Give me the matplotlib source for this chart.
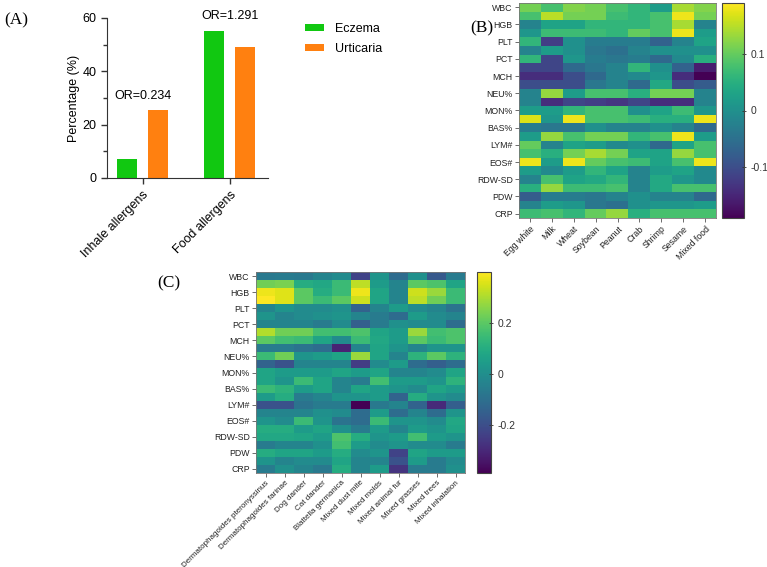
import matplotlib.pyplot as plt
import numpy as np

plt.rcParams['font.family'] = ['Liberation Sans', 'DejaVu Sans']

# ---- panel A data
groups = ['Inhale allergens', 'Food allergens']
eczema = [7.3, 55.3]
urticaria = [25.5, 49.0]
or_labels = ['OR=0.234', 'OR=1.291']

# ---- heatmap labels
row_labels = ['WBC', 'HGB', 'PLT', 'PCT', 'MCH', 'NEU%', 'MON%', 'BAS%',
              'LYM#', 'EOS#', 'RDW-SD', 'PDW', 'CRP']
food_cols = ['Egg white', 'Milk', 'Wheat', 'Soybean', 'Peanut', 'Crab',
             'Shrimp', 'Sesame', 'Mixed food']
inhale_cols = ['Dermatophagoides pteronyssinus', 'Dermatophagoides farinae',
               'Dog dander', 'Cat dander', 'Blattella germanica',
               'Mixed dust mite', 'Mixed molds', 'Mixed animal fur',
               'Mixed grasses', 'Mixed trees', 'Mixed inhalation']

# ---- panel B values (25 rows x 9 cols)
food_vals = [
    [0.11, 0.08, 0.12, 0.11, 0.08, 0.06, 0.02, 0.14, 0.12],
    [0.08, 0.15, 0.11, 0.11, 0.07, 0.06, 0.08, 0.18, 0.11],
    [-0.02, 0.03, 0.03, 0.06, 0.06, 0.06, 0.08, 0.14, -0.02],
    [0.01, 0.07, 0.07, 0.07, 0.06, 0.10, 0.08, 0.18, 0.02],
    [0.06, -0.12, 0.00, -0.03, -0.03, -0.03, -0.07, -0.02, 0.03],
    [-0.02, 0.02, 0.00, -0.04, -0.05, -0.02, 0.00, 0.00, 0.00],
    [0.06, -0.11, 0.01, -0.03, -0.04, -0.03, -0.06, -0.01, 0.05],
    [-0.11, -0.11, -0.06, -0.04, -0.02, 0.06, 0.00, -0.07, -0.16],
    [-0.14, -0.14, -0.10, -0.06, -0.02, -0.01, 0.01, -0.14, -0.19],
    [-0.10, -0.10, -0.10, -0.04, -0.02, -0.06, 0.04, -0.10, -0.08],
    [-0.02, 0.13, 0.02, 0.08, 0.08, 0.05, 0.11, 0.11, -0.02],
    [-0.02, -0.14, -0.11, -0.12, -0.13, -0.11, -0.14, -0.14, -0.02],
    [0.02, 0.02, 0.06, 0.08, 0.08, 0.00, 0.03, 0.07, 0.01],
    [0.17, 0.01, 0.18, 0.08, 0.08, 0.07, 0.05, 0.05, 0.18],
    [-0.03, -0.04, -0.04, 0.00, -0.02, -0.02, 0.00, -0.02, -0.06],
    [0.02, 0.13, 0.08, 0.11, 0.11, 0.06, 0.08, 0.18, 0.02],
    [0.10, -0.02, 0.03, 0.02, -0.01, 0.00, -0.06, 0.03, 0.08],
    [0.08, 0.05, 0.11, 0.14, 0.11, 0.03, 0.03, 0.13, 0.08],
    [0.18, 0.02, 0.18, 0.10, 0.08, 0.07, 0.03, 0.08, 0.18],
    [0.02, -0.01, 0.02, 0.06, 0.03, -0.02, 0.02, 0.03, -0.01],
    [-0.02, 0.08, 0.03, 0.04, 0.06, -0.02, 0.04, 0.01, -0.01],
    [0.05, 0.13, 0.07, 0.07, 0.08, -0.02, 0.04, 0.08, 0.08],
    [-0.08, -0.03, -0.03, -0.04, -0.02, 0.00, -0.02, -0.02, -0.06],
    [-0.02, 0.02, 0.01, -0.04, -0.05, 0.00, 0.01, 0.01, 0.02],
    [0.07, 0.08, 0.06, 0.10, 0.13, 0.05, 0.08, 0.08, 0.08],
]

# ---- panel C values (25 rows x 11 cols)
inhale_vals = [
    [-0.07, -0.06, -0.07, -0.035, -0.01, -0.23, 0.02, -0.11, 0.005, -0.17, -0.06],
    [0.23, 0.24, 0.10, 0.085, 0.15, 0.32, 0.045, -0.035, 0.20, 0.18, 0.07],
    [0.38, 0.36, 0.20, 0.10, 0.15, 0.38, 0.07, -0.035, 0.34, 0.28, 0.15],
    [0.40, 0.36, 0.20, 0.15, 0.20, 0.34, 0.07, -0.035, 0.32, 0.23, 0.15],
    [-0.035, 0.02, -0.01, -0.01, 0.005, -0.14, -0.035, 0.045, -0.01, -0.035, -0.09],
    [0.02, -0.035, -0.01, 0.005, 0.02, -0.035, -0.06, -0.11, 0.045, -0.01, -0.035],
    [-0.035, -0.035, -0.035, -0.06, -0.01, -0.15, -0.06, 0.005, -0.01, -0.01, -0.11],
    [0.31, 0.23, 0.23, 0.16, 0.16, 0.18, 0.07, 0.045, 0.28, 0.16, 0.18],
    [0.20, 0.16, 0.15, 0.07, -0.01, 0.15, 0.085, 0.045, 0.20, 0.15, 0.18],
    [-0.06, -0.06, -0.09, -0.11, -0.31, -0.035, 0.07, 0.02, -0.035, 0.02, 0.02],
    [0.15, 0.23, 0.02, 0.045, 0.07, 0.28, 0.07, -0.035, 0.12, 0.20, 0.12],
    [-0.14, -0.19, -0.035, -0.035, -0.035, -0.25, -0.01, 0.045, -0.11, -0.15, -0.11],
    [0.07, 0.045, 0.045, 0.045, 0.07, 0.045, 0.07, -0.035, -0.035, -0.01, 0.07],
    [0.07, 0.02, 0.15, 0.07, -0.035, -0.06, 0.16, 0.045, 0.045, 0.02, 0.12],
    [0.15, 0.12, 0.045, 0.07, -0.035, 0.07, 0.045, 0.02, -0.01, 0.07, 0.045],
    [0.045, 0.10, -0.06, -0.035, 0.02, 0.02, 0.045, -0.14, 0.10, 0.02, -0.01],
    [-0.19, -0.19, -0.09, -0.06, -0.06, -0.39, -0.07, -0.035, -0.14, -0.295, -0.15],
    [-0.035, -0.035, -0.035, 0.005, -0.01, -0.11, 0.045, -0.11, -0.035, -0.11, 0.02],
    [0.02, -0.01, 0.15, 0.02, -0.09, -0.11, 0.15, 0.02, 0.02, -0.01, 0.085],
    [0.10, 0.10, 0.045, 0.07, 0.005, -0.06, 0.045, -0.035, 0.045, 0.02, 0.07],
    [0.085, 0.085, 0.07, 0.045, 0.18, 0.10, 0.02, 0.045, 0.16, 0.045, 0.02],
    [-0.06, -0.035, -0.035, 0.005, 0.16, 0.045, -0.01, 0.02, -0.01, -0.01, -0.06],
    [0.10, 0.07, 0.07, 0.045, 0.10, -0.01, 0.02, -0.23, 0.07, 0.045, 0.045],
    [0.02, -0.035, -0.01, -0.01, 0.07, -0.035, -0.035, -0.19, 0.045, -0.06, -0.01],
    [-0.06, 0.005, -0.035, -0.07, 0.10, -0.035, 0.045, -0.27, -0.06, -0.06, 0.005],
]

W, H = 767, 567
fig = plt.figure(figsize=(W / 100, H / 100), dpi=100)


def px_axes(x0, y0, x1, y1):
    # pixel box (left, top, right, bottom) -> figure axes
    return fig.add_axes([x0 / W, 1 - y1 / H, (x1 - x0) / W, (y1 - y0) / H])


axc = '#333333'

# ================= panel A
ax = px_axes(107, 18, 268, 178)
x = np.arange(len(groups))
w = 0.23
ax.bar(x - 0.18, eczema, w, color='#11c811', label='Eczema')
ax.bar(x + 0.18, urticaria, w, color='#ff8010', label='Urticaria')
ax.set_xlim(-0.41, 1.44)
ax.set_ylim(0, 60)
ax.set_yticks([0, 20, 40, 60])
ax.set_yticks([10, 30, 50], minor=True)
ax.set_xticks(x)
ax.set_xticklabels(groups, rotation=45, ha='right', rotation_mode='anchor', fontsize=9)
ax.set_ylabel('Percentage (%)', fontsize=9, labelpad=2)
for s in ['top', 'right']:
    ax.spines[s].set_visible(False)
for s in ['left', 'bottom']:
    ax.spines[s].set_color(axc)
ax.tick_params(axis='both', colors=axc, labelcolor='black', labelsize=9, length=4, width=1)
ax.tick_params(axis='y', which='minor', length=3, width=1, colors=axc)
for i, t in enumerate(or_labels):
    top = max(eczema[i], urticaria[i])
    ax.annotate(t, (x[i], top), xytext=(0, 6), textcoords='offset points',
                ha='center', va='bottom', fontsize=9, annotation_clip=False)
ax.legend(loc='upper left', bbox_to_anchor=(1.16, 1.04), frameon=False, fontsize=9,
          handlelength=1.5, handleheight=0.45, handletextpad=0.9, labelspacing=0.65)

# ================= heatmaps
def heat(data, cols, box, cbox, vmin, vmax, cticks, cticklabels, xfs):
    a = px_axes(*box)
    im = a.imshow(np.array(data), cmap='viridis', vmin=vmin, vmax=vmax,
                  aspect='auto', interpolation='nearest')
    a.set_yticks(np.arange(0, 25, 2))
    a.set_yticklabels(row_labels, fontsize=6.3)
    a.set_xticks(np.arange(len(cols)))
    a.set_xticklabels(cols, rotation=45, ha='right', rotation_mode='anchor', fontsize=xfs)
    a.tick_params(length=3, width=0.6, colors='#555555', labelcolor='#222222', pad=1.5)
    for s in a.spines.values():
        s.set_color('#777777')
        s.set_linewidth(0.6)
    ca = px_axes(*cbox)
    cb = fig.colorbar(im, cax=ca)
    cb.set_ticks(cticks)
    cb.set_ticklabels(cticklabels)
    ca.tick_params(labelsize=7.5, length=3, width=0.6, direction='inout', pad=3,
                   colors='#333333')
    cb.outline.set_edgecolor('#444444')
    cb.outline.set_linewidth(0.8)
    return a


heat(food_vals, food_cols, (519, 3, 716, 218), (722, 3, 744, 218),
     -0.19, 0.19, [-0.1, 0, 0.1], ['-0.1', '0', '0.1'], 6.3)
heat(inhale_vals, inhale_cols, (256, 272, 465, 473), (477, 272, 491, 473),
     -0.39, 0.40, [-0.2, 0, 0.2], ['-0.2', '0', '0.2'], 5.8)

# panel letters
for lbl, px, py in [('(A)', 4, 20), ('(B)', 470, 28), ('(C)', 157, 283)]:
    fig.text(px / W, 1 - py / H, lbl, family=['Liberation Serif', 'DejaVu Serif'],
             fontsize=12.5, va='center', ha='left')

fig.savefig('out.png', dpi=100)
